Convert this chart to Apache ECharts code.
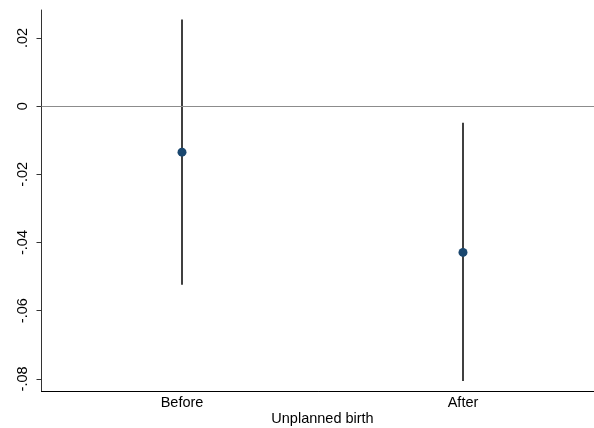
<!DOCTYPE html>
<html>
<head>
<meta charset="utf-8">
<script src="https://cdn.jsdelivr.net/npm/echarts@6/dist/echarts.min.js"></script>
<style>html,body{margin:0;padding:0;background:#fff;}#c{width:594px;height:428px;}</style>
</head>
<body>
<div id="c"></div>
<script>
var categories = ['Before', 'After'];
var estimates = [-0.0135, -0.0429];
var ciLower = [-0.0524, -0.0806];
var ciUpper = [0.0254, -0.0049];
var yTicks = [-0.08, -0.06, -0.04, -0.02, 0, 0.02];
var xTitle = 'Unplanned birth';

function stataFmt(v) {
  var r = Math.round(v * 100) / 100;
  if (r === 0) return '0';
  var s = Math.abs(r).toFixed(2).replace(/^0/, '');
  return (r < 0 ? '-' : '') + s;
}

var chart = echarts.init(document.getElementById('c'), null, {renderer: 'canvas'});
var font = 'Liberation Sans, Arial, sans-serif';
chart.setOption({
  animation: false,
  backgroundColor: '#ffffff',
  grid: {left: 41.5, top: 10, right: -9.5, bottom: 36.5, containLabel: false, outerBoundsMode: 'none'},
  xAxis: {
    type: 'category',
    data: categories,
    boundaryGap: true,
    name: xTitle,
    nameLocation: 'middle',
    nameGap: 20,
    nameMoveOverlap: false,
    nameTextStyle: {fontFamily: font, fontSize: 14.5, color: '#000', verticalAlign: 'top'},
    axisLine: {onZero: false, lineStyle: {color: '#000', width: 1}},
    axisTick: {show: false},
    axisLabel: {fontFamily: font, fontSize: 14.5, color: '#000', margin: 4},
    splitLine: {show: false}
  },
  yAxis: {
    type: 'value',
    min: -0.0837,
    max: 0.0282,
    axisLine: {show: true, onZero: false, lineStyle: {color: '#333', width: 1}},
    axisTick: {show: true, length: 5, lineStyle: {color: '#333'}, customValues: yTicks},
    axisLabel: {fontFamily: font, fontSize: 14.5, color: '#000', rotate: 90, margin: 11,
      customValues: yTicks, formatter: stataFmt},
    splitLine: {show: false}
  },
  series: [
    {
      type: 'custom',
      data: categories.map(function (c, i) { return [i, ciLower[i], ciUpper[i]]; }),
      encode: {x: 0, y: [1, 2]},
      renderItem: function (params, api) {
        var p1 = api.coord([api.value(0), api.value(1)]);
        var p2 = api.coord([api.value(0), api.value(2)]);
        return {type: 'line', shape: {x1: p1[0], y1: p1[1], x2: p2[0], y2: p2[1]},
          style: {stroke: '#000', lineWidth: 1.5}};
      },
      markLine: {
        silent: true, symbol: 'none', label: {show: false},
        lineStyle: {color: '#8c8c8c', width: 1.2, type: 'solid'},
        data: [{yAxis: 0}]
      },
      z: 2
    },
    {
      type: 'scatter',
      data: categories.map(function (c, i) { return [i, estimates[i]]; }),
      symbol: 'circle',
      symbolSize: 9,
      itemStyle: {color: '#1a476f', opacity: 1},
      z: 3
    }
  ]
});
</script>
</body>
</html>
